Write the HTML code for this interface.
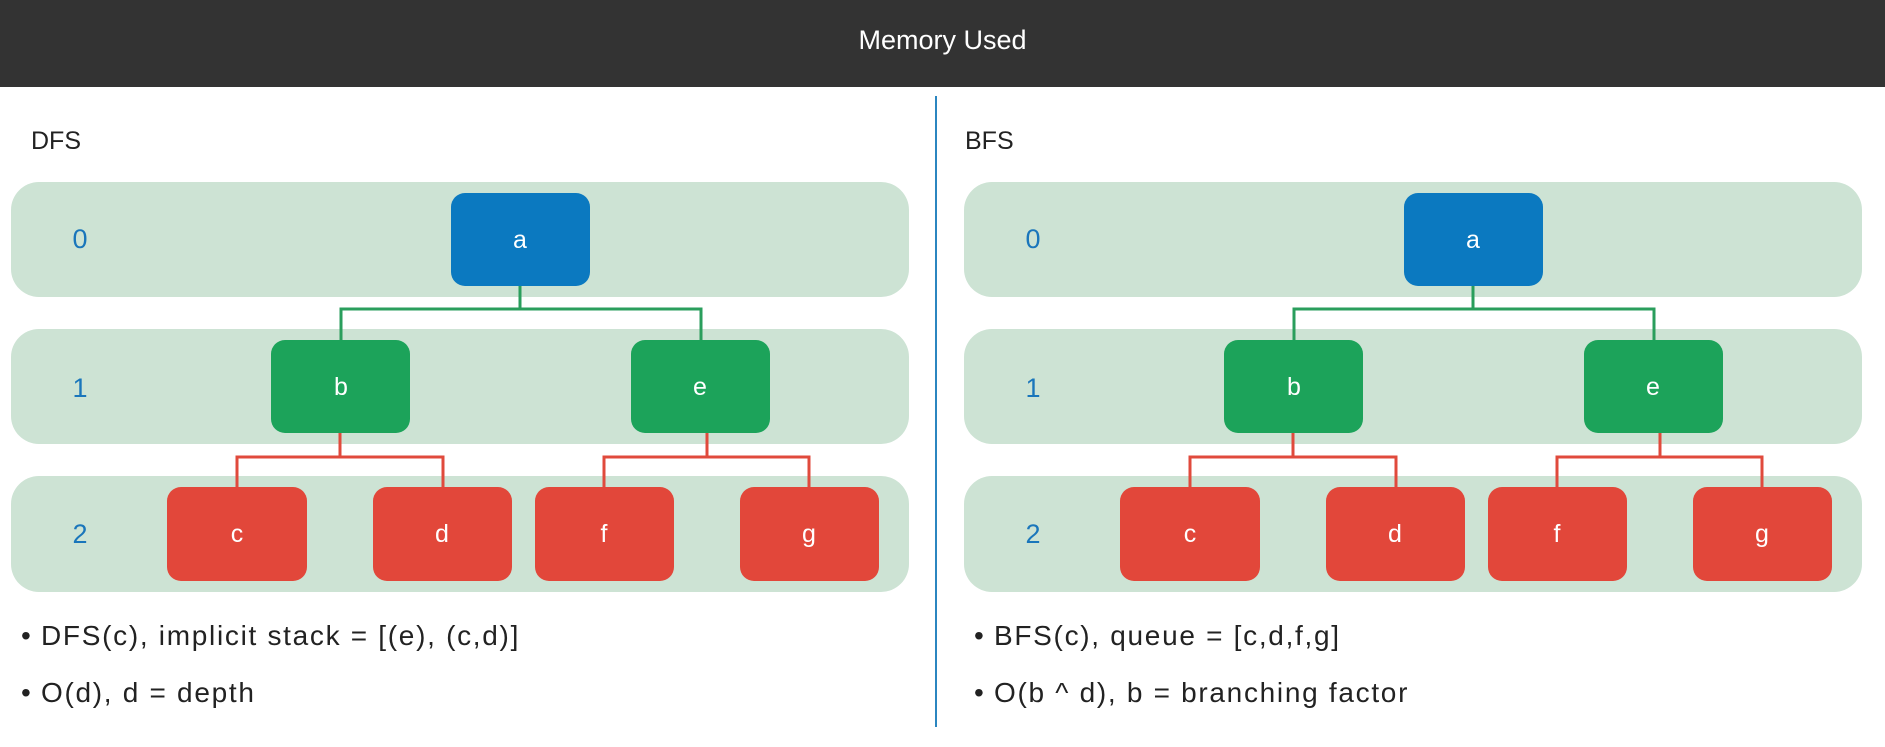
<!DOCTYPE html>
<html><head><meta charset="utf-8"><style>
body{margin:0;width:1885px;height:747px;background:#fff;position:relative;overflow:hidden;font-family:"Liberation Sans",sans-serif}
.hdr{position:absolute;left:0;top:0;width:1885px;height:87px;background:#333;color:#fff;font-size:27px;text-align:center;line-height:80px}
.t{position:absolute;font-size:25px;color:#222}
.b{position:absolute;font-size:28px;color:#222;white-space:nowrap;letter-spacing:1.7px}
.b span{display:inline-block;width:20px}
</style></head><body>
<div class="hdr">Memory Used</div>
<div style="position:absolute;left:935px;top:96px;width:2px;height:631px;background:#2b86c0"></div>
<div class="t" style="left:31px;top:127px">DFS</div>
<div class="t" style="left:965px;top:127px">BFS</div>
<svg width="1885" height="747" style="position:absolute;left:0;top:0" font-family="Liberation Sans, sans-serif">
<g id="L">
<rect x="11" y="182" width="898" height="115" rx="28" fill="#cde3d4"/>
<rect x="11" y="329" width="898" height="115" rx="28" fill="#cde3d4"/>
<rect x="11" y="476" width="898" height="116" rx="28" fill="#cde3d4"/>
<g fill="#1a76bb" font-size="27" text-anchor="middle">
<text x="80" y="248">0</text><text x="80" y="397">1</text><text x="80" y="543">2</text></g>
<path d="M520 286V309M341 340V309H701V340" stroke="#2a9e5c" stroke-width="3" fill="none"/>
<path d="M340 433V457M237 487V457H443V487M707 433V457M604 487V457H809V487" stroke="#e04a3c" stroke-width="3" fill="none"/>
<rect x="451" y="193" width="139" height="93" rx="14" fill="#0b79c0"/>
<rect x="271" y="340" width="139" height="93" rx="14" fill="#1ca35a"/>
<rect x="631" y="340" width="139" height="93" rx="14" fill="#1ca35a"/>
<rect x="167" y="487" width="140" height="94" rx="14" fill="#e2473a"/>
<rect x="373" y="487" width="139" height="94" rx="14" fill="#e2473a"/>
<rect x="535" y="487" width="139" height="94" rx="14" fill="#e2473a"/>
<rect x="740" y="487" width="139" height="94" rx="14" fill="#e2473a"/>
<g fill="#fff" font-size="25" text-anchor="middle">
<text x="520" y="248">a</text><text x="341" y="395">b</text><text x="700" y="395">e</text>
<text x="237" y="542">c</text><text x="442" y="542">d</text><text x="604" y="542">f</text><text x="809" y="542">g</text></g>
</g>
<use href="#L" x="953"/>
</svg>
<div class="b" style="left:21px;top:620px"><span>•</span>DFS(c), implicit stack = [(e), (c,d)]</div>
<div class="b" style="left:21px;top:677px"><span>•</span>O(d), d = depth</div>
<div class="b" style="left:974px;top:620px"><span>•</span>BFS(c), queue = [c,d,f,g]</div>
<div class="b" style="left:974px;top:677px"><span>•</span>O(b ^ d), b = branching factor</div>
</body></html>
